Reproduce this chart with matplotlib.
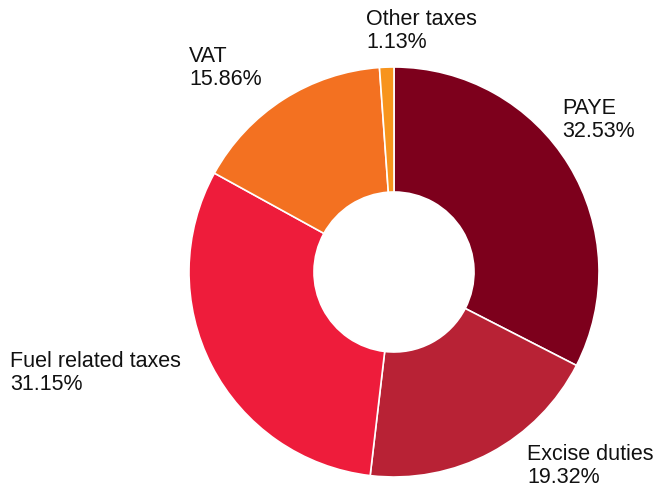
import matplotlib.pyplot as plt

plt.rcParams['font.family'] = ['Liberation Sans', 'DejaVu Sans']

categories = ['PAYE', 'Excise duties', 'Fuel related taxes', 'VAT', 'Other taxes']
shares = [32.53, 19.32, 31.15, 15.86, 1.13]
colors = ['#7d001c', '#b82235', '#ee1c3b', '#f37121', '#f7941d']

# label corners (left, top) in pixels from the top-left of the figure
label_pos = [(562, 98), (527, 444), (10, 351), (189, 46), (366, 9)]

W, H = 654, 488
fig = plt.figure(figsize=(W / 100, H / 100), dpi=100)
ax = fig.add_axes([0, 0, 1, 1])

ax.pie(shares, colors=colors, startangle=90, counterclock=False,
       center=(394, H - 272), radius=205, frame=True,
       wedgeprops=dict(width=125, edgecolor='white', linewidth=1.2))
ax.set_xlim(0, W)
ax.set_ylim(0, H)
ax.set_aspect('equal')
ax.axis('off')

for name, val, (x, y) in zip(categories, shares, label_pos):
    ax.text(x, H - y, f'{name}\n{val:.2f}%', ha='left', va='top',
            fontsize=15.5, color='#111111', linespacing=1.1)

fig.savefig('out.png', dpi=100)
